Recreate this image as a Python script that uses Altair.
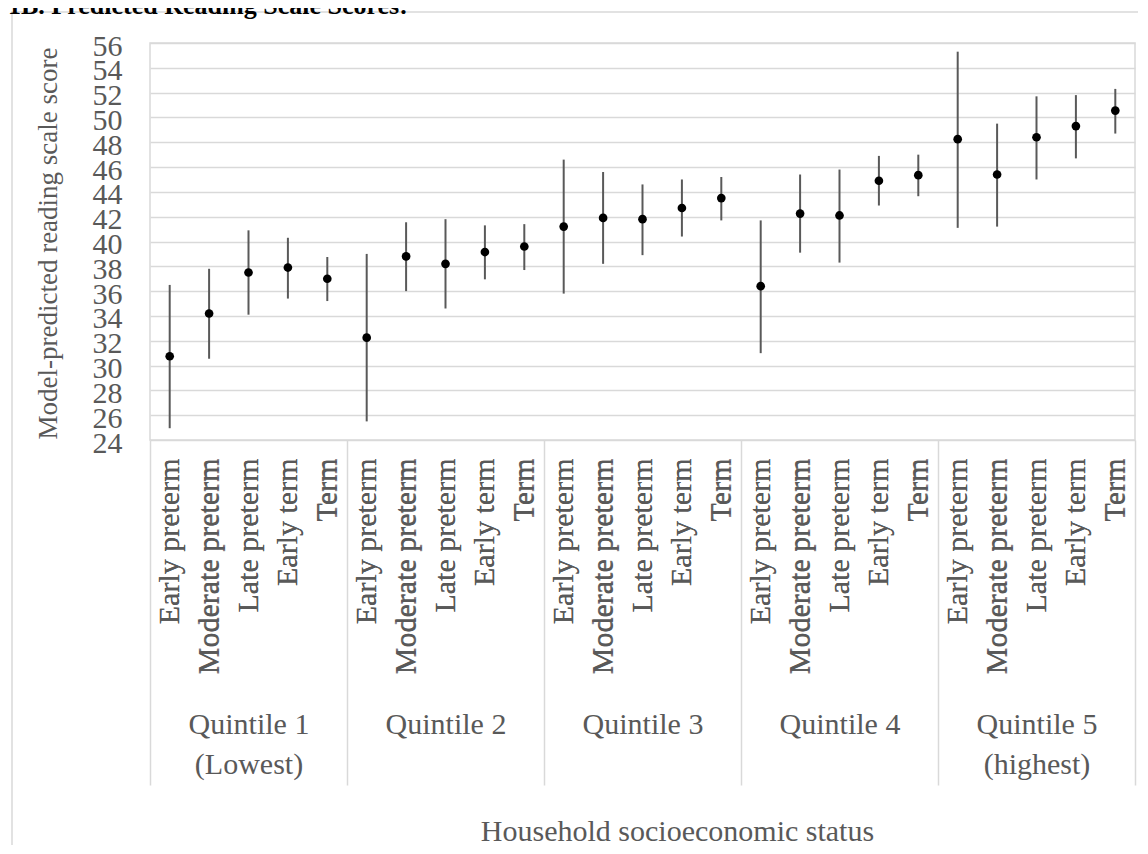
import altair as alt
import pandas as pd

FONT = "Liberation Serif"
TEXT_GRAY = "#595959"
LINE_GRAY = "#d9d9d9"

quintiles = ["Quintile 1\n(Lowest)", "Quintile 2", "Quintile 3", "Quintile 4", "Quintile 5\n(highest)"]
quintile_codes = ["Q1", "Q2", "Q3", "Q4", "Q5"]
categories = ["Early preterm", "Moderate preterm", "Late preterm", "Early term", "Term"]

est_q1 = [30.75, 34.2, 37.5, 37.9, 37.0]
est_q2 = [32.25, 38.8, 38.2, 39.15, 39.6]
est_q3 = [41.2, 41.9, 41.8, 42.7, 43.5]
est_q4 = [36.4, 42.25, 42.1, 44.9, 45.35]
est_q5 = [48.25, 45.4, 48.4, 49.3, 50.55]

low_q1 = [24.95, 30.55, 34.1, 35.4, 35.2]
low_q2 = [25.5, 36.0, 34.6, 36.95, 37.7]
low_q3 = [35.8, 38.2, 38.9, 40.4, 41.7]
low_q4 = [31.0, 39.1, 38.3, 42.9, 43.65]
low_q5 = [41.1, 41.2, 45.0, 46.7, 48.7]

up_q1 = [36.5, 37.8, 40.9, 40.3, 38.75]
up_q2 = [39.0, 41.55, 41.8, 41.3, 41.4]
up_q3 = [46.6, 45.6, 44.6, 45.0, 45.2]
up_q4 = [41.7, 45.4, 45.8, 46.9, 47.0]
up_q5 = [55.3, 49.5, 51.7, 51.8, 52.3]

y_ticks = [24, 26, 28, 30, 32, 34, 36, 38, 40, 42, 44, 46, 48, 50, 52, 54, 56]

title_text = "1B. Predicted Reading Scale Scores:"
y_title = "Model-predicted reading scale score"
x_title = "Household socioeconomic status"

ests = [est_q1, est_q2, est_q3, est_q4, est_q5]
lows = [low_q1, low_q2, low_q3, low_q4, low_q5]
ups = [up_q1, up_q2, up_q3, up_q4, up_q5]

rows = []
keys = []
for qi, q in enumerate(quintiles):
    for ci, c in enumerate(categories):
        key = f"{quintile_codes[qi]}|{c}"
        keys.append(key)
        rows.append({"key": key, "quintile": q, "category": c,
                     "estimate": ests[qi][ci], "lower": lows[qi][ci], "upper": ups[qi][ci]})
df = pd.DataFrame(rows)

y_scale = alt.Scale(domain=[24, 56], nice=False, zero=False)

x_cat = alt.X("key:N", sort=keys,
              axis=alt.Axis(orient="bottom", title=None, labelAngle=270,
                            labelExpr="split(datum.label, '|')[1]",
                            labelFont=FONT, labelFontSize=30, labelColor=TEXT_GRAY,
                            labelPadding=18, ticks=False, domain=False, grid=False,
                            labelOverlap=False, labelLimit=0))

y_axis = alt.Axis(values=y_ticks, title=y_title, titleFont=FONT, titleFontSize=27,
                  titleFontWeight="normal", titleColor=TEXT_GRAY, titleAngle=270,
                  titleX=-102, titleY=200, titleAlign="center", titleBaseline="middle",
                  labelFont=FONT, labelFontSize=30, labelColor=TEXT_GRAY,
                  labelPadding=28, labelOffset=3, ticks=False, domain=False,
                  grid=True, gridColor=LINE_GRAY, gridWidth=1.5, labelOverlap=False,
                  labelFlush=False)

base = alt.Chart(df)

rules = base.mark_rule(color=TEXT_GRAY, strokeWidth=2).encode(
    x=x_cat,
    y=alt.Y("lower:Q", scale=y_scale, axis=y_axis, title=y_title),
    y2="upper:Q",
)

points = base.mark_circle(size=75, color="black", opacity=1).encode(
    x=x_cat,
    y=alt.Y("estimate:Q", scale=y_scale, axis=y_axis, title=y_title),
)

quint_layer = base.mark_point(opacity=0).encode(
    x=alt.X("quintile:N", sort=quintiles,
            scale=alt.Scale(type="band", paddingInner=0, paddingOuter=0),
            axis=alt.Axis(orient="bottom", tickBand="extent", tickSize=345,
                          tickColor=LINE_GRAY, tickWidth=1.5, domain=False, grid=False,
                          labelAngle=0, labelExpr="split(datum.label, '\\n')",
                          labelFont=FONT, labelFontSize=30, labelColor=TEXT_GRAY,
                          labelPadding=-76, labelLineHeight=40, labelBaseline="top",
                          labelAlign="center", labelOverlap=False, labelLimit=0,
                          title=x_title, titleFont=FONT, titleFontSize=30,
                          titleFontWeight="normal", titleColor=TEXT_GRAY,
                          titleX=527, titleY=400, titleBaseline="alphabetic",
                          titleAlign="center")),
    y=alt.Y("estimate:Q", scale=y_scale, axis=y_axis, title=y_title),
)

frame = alt.Chart(pd.DataFrame({"frame": [0]})).mark_rect(
    fillOpacity=0, stroke=LINE_GRAY, strokeWidth=1.5
).encode(
    x=alt.value(-138), x2=alt.value(1400), y=alt.value(-31), y2=alt.value(1100)
)

chart = alt.layer(frame, quint_layer, rules, points).resolve_scale(
    x="independent"
).properties(
    width=985,
    height=397,
    autosize=alt.AutoSizeParams(type="none"),
    padding={"left": 142, "top": 35, "right": 3, "bottom": 405},
    title=alt.TitleParams(text=title_text, anchor="start", frame="group", dx=-142,
                          offset=0, dy=29, baseline="alphabetic", font=FONT, fontSize=26,
                          fontWeight="bold", color="black"),
).configure_view(
    stroke=LINE_GRAY, strokeWidth=1.5
)

chart.save("out.html", embed_options={"renderer": "svg", "actions": False})
